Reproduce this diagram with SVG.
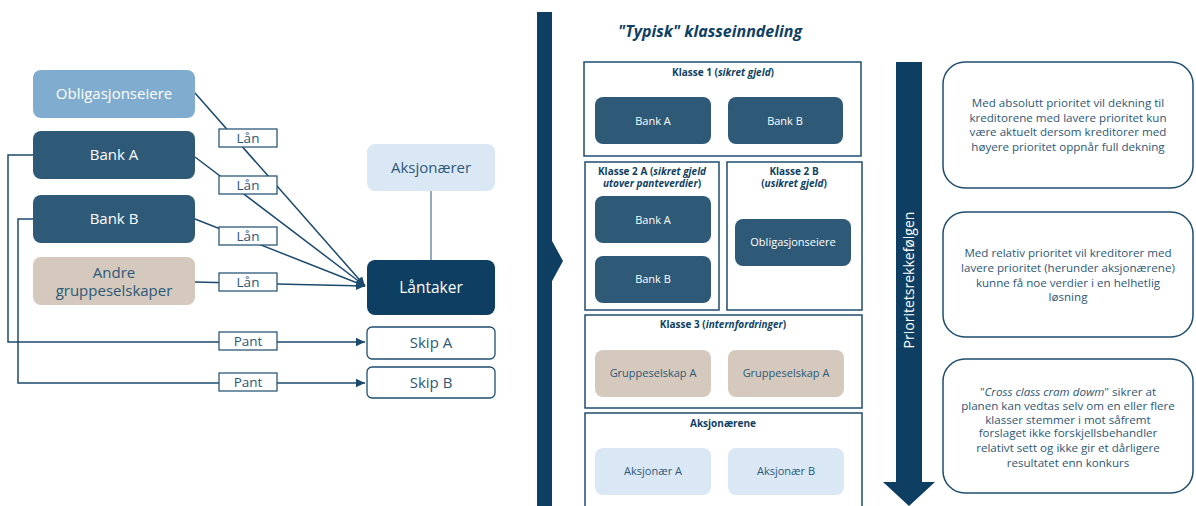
<svg xmlns="http://www.w3.org/2000/svg" width="1196" height="506" viewBox="0 0 1196 506">
<defs>
<marker id="arr" markerUnits="userSpaceOnUse" markerWidth="10" markerHeight="10" refX="9" refY="5" orient="auto">
<path d="M0,0.8 L9,5 L0,9.2 z" fill="#1b4a6d"/>
</marker>
<style>
text{font-family:"Open Sans","Noto Sans","Liberation Sans",sans-serif;}
.c{text-anchor:middle;}
.w{fill:#ffffff;}
.d{fill:#2d5877;}
.n{fill:#0f3f63;}
.ln{fill:none;stroke:#1b4a6d;stroke-width:1.5;}
.lbl{fill:#ffffff;stroke:#2d5877;stroke-width:1.3;}
.cls{fill:#ffffff;stroke:#1f4e70;stroke-width:1.5;}
.mid{fill:#2e5a78;}
.lt{fill:#80acd0;}
.pale{fill:#dae8f6;}
.beige{fill:#d4c9bc;}
.navy{fill:#0e3f62;}
.note{fill:#ffffff;stroke:#1f4e70;stroke-width:1.5;}
.f15{font-size:15px;}
.f13{font-size:13.5px;}
.f11{font-size:11px;}
.f12{font-size:11.6px;}
.f10{font-size:10px;font-weight:bold;}
</style>
</defs>

<g id="connectors">
<line class="ln" x1="195" y1="93" x2="365" y2="286" marker-end="url(#arr)"/>
<line class="ln" x1="195" y1="157" x2="365" y2="286" marker-end="url(#arr)"/>
<line class="ln" x1="195" y1="219" x2="365" y2="286" marker-end="url(#arr)"/>
<line class="ln" x1="195" y1="282" x2="365" y2="286" marker-end="url(#arr)"/>
<path class="ln" d="M33,155 H8 V342 H365" marker-end="url(#arr)"/>
<path class="ln" d="M33,219 H18 V383 H365" marker-end="url(#arr)"/>
<line x1="431" y1="191" x2="431" y2="260" stroke="#5a7d99" stroke-width="1.3"/>
</g>

<g id="lbl-lan1"><rect class="lbl" x="219" y="129" width="58" height="18"/><text class="c d f13" x="248" y="143">Lån</text></g>
<g id="lbl-lan2"><rect class="lbl" x="219" y="176" width="58" height="18"/><text class="c d f13" x="248" y="190">Lån</text></g>
<g id="lbl-lan3"><rect class="lbl" x="219" y="227" width="58" height="18"/><text class="c d f13" x="248" y="241">Lån</text></g>
<g id="lbl-lan4"><rect class="lbl" x="219" y="273" width="58" height="18"/><text class="c d f13" x="248" y="287">Lån</text></g>
<g id="lbl-pant1"><rect class="lbl" x="219" y="332" width="58" height="18"/><text class="c d f13" x="248" y="346">Pant</text></g>
<g id="lbl-pant2"><rect class="lbl" x="219" y="373" width="58" height="18"/><text class="c d f13" x="248" y="387">Pant</text></g>

<g id="obligasjonseiere"><rect class="lt" x="33" y="70" width="162" height="48" rx="8"/><text class="c w f15" x="114" y="99">Obligasjonseiere</text></g>
<g id="bank-a"><rect class="mid" x="33" y="131" width="162" height="48" rx="8"/><text class="c w f15" x="114" y="160">Bank A</text></g>
<g id="bank-b"><rect class="mid" x="33" y="195" width="162" height="48" rx="8"/><text class="c w f15" x="114" y="224">Bank B</text></g>
<g id="andre"><rect class="beige" x="33" y="257" width="162" height="48" rx="8"/><text class="c d f15" x="114" y="278">Andre</text><text class="c d f15" x="114" y="296">gruppeselskaper</text></g>
<g id="aksjonaerer"><rect class="pale" x="367" y="144" width="128" height="47" rx="8"/><text class="c d f15" x="431" y="173">Aksjonærer</text></g>
<g id="lantaker"><rect class="navy" x="367" y="260" width="128" height="55" rx="8"/><text class="c w" x="431" y="293" font-size="15.5">Låntaker</text></g>
<g id="skip-a"><rect x="367" y="327" width="128" height="32" rx="5" fill="#fff" stroke="#1f4e70" stroke-width="1.3"/><text class="c d f15" x="431" y="348">Skip A</text></g>
<g id="skip-b"><rect x="367" y="367" width="128" height="31" rx="5" fill="#fff" stroke="#1f4e70" stroke-width="1.3"/><text class="c d f15" x="431" y="388">Skip B</text></g>

<g id="divider">
<rect class="navy" x="537" y="12" width="15" height="494"/>
<polygon class="navy" points="551,239 563,261 551,283"/>
</g>

<g id="title"><text class="c n" x="710" y="37" font-size="16" font-weight="bold" font-style="italic">"Typisk" klasseinndeling</text></g>

<g id="klasse1">
<rect class="cls" x="584" y="62" width="277" height="94"/>
<text class="c n f10" x="723" y="76">Klasse 1 (<tspan font-style="italic">sikret gjeld</tspan>)</text>
<rect class="mid" x="595" y="97" width="116" height="47" rx="8"/><text class="c w f11" x="653" y="125">Bank A</text>
<rect class="mid" x="728" y="97" width="115" height="47" rx="8"/><text class="c w f11" x="785" y="125">Bank B</text>
</g>

<g id="klasse2a">
<rect class="cls" x="585" y="162" width="134" height="148"/>
<text class="c n f10" x="652" y="175">Klasse 2 A (<tspan font-style="italic">sikret gjeld</tspan></text>
<text class="c n f10" x="652" y="187"><tspan font-style="italic">utover panteverdier</tspan>)</text>
<rect class="mid" x="595" y="196" width="116" height="47" rx="8"/><text class="c w f11" x="653" y="224">Bank A</text>
<rect class="mid" x="595" y="256" width="116" height="47" rx="8"/><text class="c w f11" x="653" y="283">Bank B</text>
</g>

<g id="klasse2b">
<rect class="cls" x="727" y="162" width="135" height="148"/>
<text class="c n f10" x="794" y="175">Klasse 2 B</text>
<text class="c n f10" x="794" y="187">(<tspan font-style="italic">usikret gjeld</tspan>)</text>
<rect class="mid" x="735" y="219" width="116" height="47" rx="8"/><text class="c w f11" x="793" y="246">Obligasjonseiere</text>
</g>

<g id="klasse3">
<rect class="cls" x="585" y="315" width="277" height="93"/>
<text class="c n f10" x="723" y="328">Klasse 3 (<tspan font-style="italic">internfordringer</tspan>)</text>
<rect class="beige" x="595" y="350" width="116" height="47" rx="8"/><text class="c d f11" x="653" y="377">Gruppeselskap A</text>
<rect class="beige" x="728" y="350" width="116" height="47" rx="8"/><text class="c d f11" x="786" y="377">Gruppeselskap A</text>
</g>

<g id="aksjonaerene">
<rect class="cls" x="585" y="413" width="277" height="100"/>
<text class="c n f10" x="723" y="427">Aksjonærene</text>
<rect class="pale" x="595" y="448" width="116" height="47" rx="8"/><text class="c d f11" x="653" y="475">Aksjonær A</text>
<rect class="pale" x="728" y="448" width="116" height="47" rx="8"/><text class="c d f11" x="786" y="475">Aksjonær B</text>
</g>

<g id="priority-arrow">
<polygon class="navy" points="896,62 922,62 922,482 935,482 909,506 883,482 896,482"/>
<text class="c w" transform="translate(914,280) rotate(-90)" font-size="14">Prioritetsrekkefølgen</text>
</g>

<g id="note1">
<rect class="note" x="943" y="62" width="250" height="126" rx="22"/>
<text class="c d f12" x="1068" y="107">Med absolutt prioritet vil dekning til</text>
<text class="c d f12" x="1068" y="122">kreditorene med lavere prioritet kun</text>
<text class="c d f12" x="1068" y="136">være aktuelt dersom kreditorer med</text>
<text class="c d f12" x="1068" y="151">høyere prioritet oppnår full dekning</text>
</g>

<g id="note2">
<rect class="note" x="943" y="212" width="250" height="125" rx="22"/>
<text class="c d f12" x="1068" y="257">Med relativ prioritet vil kreditorer med</text>
<text class="c d f12" x="1068" y="272">lavere prioritet (herunder aksjonærene)</text>
<text class="c d f12" x="1068" y="287">kunne få noe verdier i en helhetlig</text>
<text class="c d f12" x="1068" y="301">løsning</text>
</g>

<g id="note3">
<rect class="note" x="943" y="359" width="250" height="134" rx="22"/>
<text class="c d f12" x="1068" y="396">"<tspan font-style="italic">Cross class cram dowm</tspan>" sikrer at</text>
<text class="c d f12" x="1068" y="410">planen kan vedtas selv om en eller flere</text>
<text class="c d f12" x="1068" y="424">klasser stemmer i mot såfremt</text>
<text class="c d f12" x="1068" y="437">forslaget ikke forskjellsbehandler</text>
<text class="c d f12" x="1068" y="452">relativt sett og ikke gir et dårligere</text>
<text class="c d f12" x="1068" y="467">resultatet enn konkurs</text>
</g>
</svg>
